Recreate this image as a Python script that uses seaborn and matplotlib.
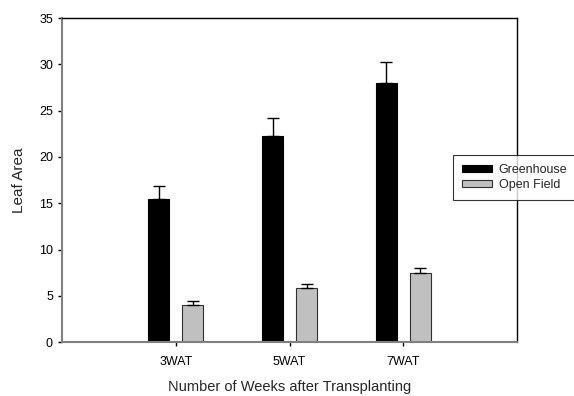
import matplotlib
matplotlib.use("Agg")
import matplotlib.pyplot as plt
import seaborn as sns
import pandas as pd
import numpy as np
from matplotlib.patches import Patch

categories = ["3WAT", "5WAT", "7WAT"]
series_names = ["Greenhouse", "Open Field"]
greenhouse = [15.5, 22.3, 28.0]
greenhouse_err = [1.4, 1.9, 2.3]
open_field = [4.0, 5.9, 7.5]
open_field_err = [0.4, 0.4, 0.55]
colors = ["#000000", "#c0c0c0"]
y_ticks = [0, 5, 10, 15, 20, 25, 30, 35]

df = pd.DataFrame({
    "cat": categories * 2,
    "series": [series_names[0]] * 3 + [series_names[1]] * 3,
    "val": greenhouse + open_field,
})
errs = [greenhouse_err, open_field_err]

sns.set_style("white")
plt.rcParams["font.family"] = ["Liberation Sans", "DejaVu Sans"]

fig = plt.figure(figsize=(5.74, 3.96), dpi=100)
ax = fig.add_axes([0.108, 0.136, 0.793, 0.8185])

sns.barplot(data=df, x="cat", y="val", hue="series", order=categories,
            hue_order=series_names, palette=colors, width=0.6, gap=0.38,
            errorbar=None, ax=ax, legend=False, saturation=1)

edgecols = ["#000000", "#303030"]
bar_containers = list(ax.containers)
for i, cont in enumerate(bar_containers):
    xs, hs = [], []
    for bar in cont.patches:
        bar.set_edgecolor(edgecols[i])
        bar.set_linewidth(0.8)
        xs.append(bar.get_x() + bar.get_width() / 2)
        hs.append(bar.get_height())
    e = errs[i]
    ax.errorbar(xs, hs, yerr=[np.zeros(len(e)), e], fmt="none",
                ecolor="black", elinewidth=1, capsize=4, capthick=1, zorder=1)

ax.set_xlim(-1.0, 3.0)
ax.set_ylim(0, 35)
ax.set_yticks(y_ticks)
ax.set_yticklabels([str(t) for t in y_ticks])
ax.tick_params(axis="both", labelsize=9, colors="black", direction="out",
               length=3, width=1, left=True, bottom=True)
ax.tick_params(axis="y", pad=3.5)
ax.tick_params(axis="x", pad=7)

ax.set_xlabel("Number of Weeks after Transplanting", fontsize=10.5, labelpad=8.5)
ax.set_ylabel("Leaf Area", fontsize=11, labelpad=9)

for s in ["left", "bottom"]:
    ax.spines[s].set_color("#808080")
    ax.spines[s].set_linewidth(1.5)
for s in ["top", "right"]:
    ax.spines[s].set_color("#000000")
    ax.spines[s].set_linewidth(1)
    ax.spines[s].set_visible(True)

handles = [Patch(facecolor=colors[0], edgecolor="#000000", linewidth=0.8),
           Patch(facecolor=colors[1], edgecolor="#303030", linewidth=0.8)]
leg = fig.legend(handles, series_names, loc="upper left",
                 bbox_to_anchor=(453 / 574, 1 - 155 / 396), fontsize=9,
                 frameon=True, fancybox=False, edgecolor="black",
                 handlelength=2.4, handleheight=0.55, borderpad=0.7,
                 labelspacing=0.25, handletextpad=0.55, borderaxespad=0)
leg.get_frame().set_linewidth(0.8)

fig.savefig("out.png", dpi=100, facecolor="white")
